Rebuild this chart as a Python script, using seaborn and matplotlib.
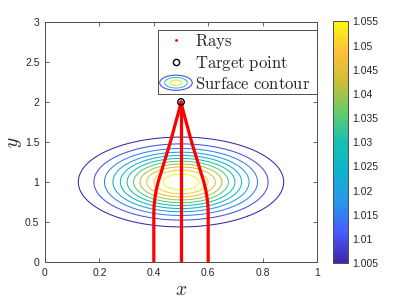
import numpy as np
import matplotlib
matplotlib.use("Agg")
import matplotlib.pyplot as plt
import seaborn as sns
from matplotlib.colors import LinearSegmentedColormap, Normalize
from matplotlib.patches import Ellipse
from matplotlib.legend_handler import HandlerBase
from matplotlib.lines import Line2D
from matplotlib.cm import ScalarMappable

# ---------------- data ----------------
surface_base = 1.0
surface_peak = 1.0593
surface_center_x = 0.5
surface_center_y = 1.0
surface_width_x = 0.240
surface_width_y = 0.357

contour_levels = [1.005, 1.010, 1.015, 1.020, 1.025, 1.030,
                  1.035, 1.040, 1.045, 1.050, 1.055]
colorbar_ticks = [1.005, 1.010, 1.015, 1.020, 1.025, 1.030,
                  1.035, 1.040, 1.045, 1.050, 1.055]
colorbar_labels = ["1.005", "1.01", "1.015", "1.02", "1.025", "1.03",
                   "1.035", "1.04", "1.045", "1.05", "1.055"]

ray_left_x = [0.400, 0.400, 0.401, 0.404, 0.409, 0.416, 0.425, 0.434,
              0.443, 0.452, 0.461, 0.469, 0.477, 0.485, 0.493, 0.500]
ray_left_y = [0.00, 0.60, 0.70, 0.80, 0.90, 1.00, 1.10, 1.20,
              1.30, 1.40, 1.50, 1.60, 1.70, 1.80, 1.90, 2.00]
ray_center_x = [0.500, 0.500]
ray_center_y = [0.00, 2.00]
ray_right_x = [0.600, 0.600, 0.599, 0.596, 0.591, 0.584, 0.575, 0.566,
               0.557, 0.548, 0.539, 0.531, 0.523, 0.515, 0.507, 0.500]
ray_right_y = [0.00, 0.60, 0.70, 0.80, 0.90, 1.00, 1.10, 1.20,
               1.30, 1.40, 1.50, 1.60, 1.70, 1.80, 1.90, 2.00]

target_x = [0.5]
target_y = [2.0]

x_ticks = [0, 0.2, 0.4, 0.6, 0.8, 1]
x_tick_labels = ["0", "0.2", "0.4", "0.6", "0.8", "1"]
y_ticks = [0, 0.5, 1, 1.5, 2, 2.5, 3]
y_tick_labels = ["0", "0.5", "1", "1.5", "2", "2.5", "3"]

legend_labels = [r"$\mathrm{Rays}$", r"$\mathrm{Target\ point}$",
                 r"$\mathrm{Surface\ contour}$  "]

# ---------------- style ----------------
sns.set_style("ticks")
plt.rcParams["font.family"] = ["Liberation Sans", "DejaVu Sans"]
plt.rcParams["mathtext.fontset"] = "cm"

parula = LinearSegmentedColormap.from_list("parula", [
    (0.000, (0.2422, 0.1504, 0.6603)),
    (0.125, (0.2780, 0.3556, 0.9777)),
    (0.250, (0.1540, 0.5902, 0.9218)),
    (0.375, (0.0592, 0.7020, 0.8039)),
    (0.500, (0.0900, 0.7450, 0.7000)),
    (0.625, (0.4000, 0.8000, 0.4200)),
    (0.750, (0.8000, 0.7480, 0.2050)),
    (0.875, (0.9950, 0.7500, 0.2300)),
    (1.000, (0.9763, 0.9831, 0.0538)),
])

axis_color = "#4d4d4d"
text_color = "#262626"

fig = plt.figure(figsize=(4, 3), dpi=100)
ax = fig.add_axes([0.1125, 0.1267, 0.68, 0.80])
cax = fig.add_axes([0.832, 0.1233, 0.037, 0.8055])

# surface contour
gx = np.linspace(0, 1, 401)
gy = np.linspace(0, 3, 901)
GX, GY = np.meshgrid(gx, gy)
Z = surface_base + (surface_peak - surface_base) * np.exp(
    -((GX - surface_center_x) / surface_width_x) ** 2
    - ((GY - surface_center_y) / surface_width_y) ** 2)
norm = Normalize(vmin=contour_levels[0], vmax=contour_levels[-1])
ax.contour(GX, GY, Z, levels=contour_levels, cmap=parula, norm=norm,
           linewidths=0.75, zorder=2)

# rays
for rx, ry in [(ray_left_x, ray_left_y), (ray_center_x, ray_center_y),
               (ray_right_x, ray_right_y)]:
    sns.lineplot(x=rx, y=ry, sort=False, estimator=None, color="red",
                 linewidth=2.3, ax=ax, legend=False, zorder=3)

# target point
sns.scatterplot(x=target_x, y=target_y, marker="o", s=22,
                facecolor="none", edgecolor="black", linewidth=1.0,
                ax=ax, legend=False, zorder=4)

ax.set_xlim(0, 1)
ax.set_ylim(0, 3)
ax.set_xticks(x_ticks)
ax.set_xticklabels(x_tick_labels)
ax.set_yticks(y_ticks)
ax.set_yticklabels(y_tick_labels)
ax.tick_params(direction="in", top=True, right=True, length=3, width=0.6,
               labelsize=7.5, colors=axis_color, labelcolor=text_color, pad=4)
for sp in ax.spines.values():
    sp.set_color(axis_color)
    sp.set_linewidth(0.7)
ax.set_xlabel(r"$x$", fontsize=14, labelpad=3)
ax.set_ylabel(r"$y$", fontsize=14, labelpad=1)

# legend
class ContourHandle:
    pass

class ContourHandler(HandlerBase):
    def create_artists(self, legend, orig_handle, xdescent, ydescent,
                       width, height, fontsize, trans):
        cx = width / 2 - xdescent
        cy = height / 2 - ydescent
        arts = []
        for frac, col in [(1.0, (0.35, 0.30, 0.85)),
                          (0.70, (0.15, 0.80, 0.85)),
                          (0.36, (0.95, 0.90, 0.10))]:
            e = Ellipse((cx, cy), width * frac, height * 1.3 * frac,
                        fill=False, edgecolor=col, linewidth=0.8,
                        transform=trans)
            arts.append(e)
        return arts

h_rays = Line2D([], [], linestyle="none", marker=".", color="red",
                markersize=2)
h_target = Line2D([], [], linestyle="none", marker="o", markersize=4.5,
                  markerfacecolor="none", markeredgecolor="black",
                  markeredgewidth=1.0)
h_contour = ContourHandle()
leg = ax.legend([h_rays, h_target, h_contour], legend_labels,
                handler_map={ContourHandle: ContourHandler()},
                loc="upper right", bbox_to_anchor=(1.0, 0.967),
                borderaxespad=0.0, fontsize=12, handlelength=1.95,
                handletextpad=0.15, labelspacing=0.17, borderpad=0.12,
                fancybox=False, framealpha=1.0, edgecolor=axis_color)
leg.get_frame().set_linewidth(0.7)
leg.set_zorder(3.5)

# colorbar
sm = ScalarMappable(norm=norm, cmap=parula)
cb = fig.colorbar(sm, cax=cax)
cb.set_ticks(colorbar_ticks)
cb.set_ticklabels(colorbar_labels)
cb.ax.tick_params(direction="in", length=3, width=0.6, labelsize=7.5,
                  colors=axis_color, labelcolor=text_color, pad=3)
cb.outline.set_edgecolor(axis_color)
cb.outline.set_linewidth(0.7)

fig.savefig("out.png", dpi=100)
